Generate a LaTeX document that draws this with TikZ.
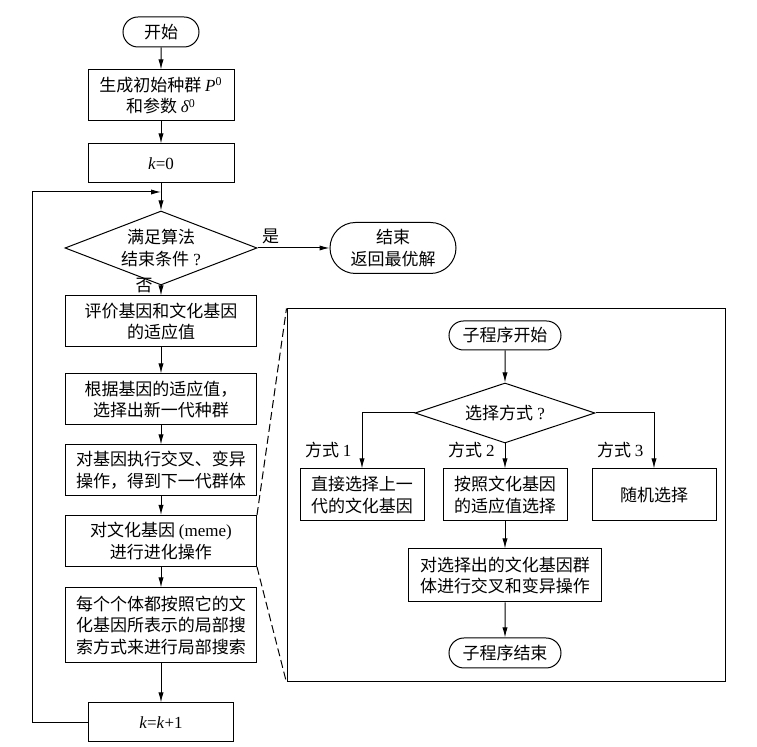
\documentclass[tikz,border=0pt]{standalone}
\usepackage{fontspec}
\setmainfont{Liberation Serif}
\newfontfamily\cjk{Noto Sans CJK SC}
\usetikzlibrary{arrows.meta, shapes.geometric, shapes.misc}

\newcommand{\lat}[1]{{\rmfamily #1}}

\begin{document}
\begin{tikzpicture}[x=0.5pt, y=-0.5pt, line width=0.5pt,
    every node/.style={font=\cjk\fontsize{8.5}{10.8}\selectfont},
    box/.style={draw, rectangle, align=center, inner sep=1pt, minimum width=95.5pt, minimum height=25.5pt},
    term/.style={draw, rounded rectangle, align=center, inner sep=0.5pt},
    cond/.style={draw, diamond, align=center, inner sep=0pt},
    arr/.style={-{Latex[length=5pt, width=2.6pt]}}]

  \useasboundingbox (0,0) rectangle (757,747);

  % main loop
  \node[term, minimum width=39pt, minimum height=15pt] (start) at (161,32) {开始};
  \node[box, minimum width=73pt] (init) at (161,95.5) {生成初始种群 \lat{\textit{P}\textsuperscript{0}}\\和参数 \lat{\textit{δ}\textsuperscript{0}}};
  \node[box, minimum width=73pt, minimum height=19.5pt] (kzero) at (161,163.5) {\lat{\textit{k}=0}};
  \node[cond, aspect=2.6, minimum width=96pt, minimum height=37pt] (stop) at (161,248) {满足算法\\结束条件\lat{ ?}};
  \node[term, minimum width=64pt, minimum height=25.5pt] (done) at (393,248) {结束\\返回最优解};
  \node[box] (fit) at (161,321.5) {评价基因和文化基因\\的适应值};
  \node[box] (pick) at (161,399.5) {根据基因的适应值，\\选择出新一代种群};
  \node[box] (ga) at (161,470.5) {对基因执行交叉、变异\\操作，得到下一代群体};
  \node[box] (meme) at (161,541) {对文化基因 \lat{(meme)}\\进行进化操作};
  \node[box, minimum height=37.5pt] (ls) at (161,625.5) {每个个体都按照它的文\\化基因所表示的局部搜\\索方式来进行局部搜索};
  \node[box, minimum width=72.5pt, minimum height=19.5pt] (knext) at (161,722.5) {\lat{\textit{k}=\textit{k}+1}};
  \coordinate (back) at (161,192);

  \draw[arr] (start) -- (init);
  \draw[arr] (init) -- (kzero);
  \draw[arr] (kzero) -- (stop);
  \draw[arr] (stop) -- node[pos=0, above right, inner sep=2pt] (yes) {是} (done);
  \draw[arr] (stop) -- node[pos=0, left, inner sep=4pt] (no) {否} (fit);
  \draw[arr] (fit) -- (pick);
  \draw[arr] (pick) -- (ga);
  \draw[arr] (ga) -- (meme);
  \draw[arr] (meme) -- (ls);
  \draw[arr] (ls) -- (knext);
  \draw[arr] (knext.west) -- ++(-55.5,0) |- (back);

  % sub-program
  \node[draw, minimum width=219pt, minimum height=186.5pt, inner sep=0pt] (sub) at (506,495.5) {};
  \draw[dash pattern=on 4pt off 2pt] (meme.north east) -- (sub.north west);
  \draw[dash pattern=on 4pt off 2pt] (meme.south east) -- (sub.south west);

  \node[term, minimum width=57pt, minimum height=14.5pt] (sbeg) at (505,335.5) {子程序开始};
  \node[cond, aspect=3, minimum width=90pt, minimum height=30pt] (way) at (505,413) {选择方式\lat{ ?}};
  \node[box, minimum width=62pt, minimum height=26pt] (m1) at (362,495) {直接选择上一\\代的文化基因};
  \node[box, minimum width=62pt, minimum height=26pt] (m2) at (505,495) {按照文化基因\\的适应值选择};
  \node[box, minimum width=62pt, minimum height=26pt] (m3) at (654,495) {随机选择};
  \node[box, minimum width=96.5pt, minimum height=26.5pt] (mcross) at (505,575.5) {对选择出的文化基因群\\体进行交叉和变异操作};
  \node[term, minimum width=57pt, minimum height=15pt] (send) at (505,653) {子程序结束};

  \draw[arr] (sbeg) -- (way);
  \draw[arr] (way.west) -| (m1.north);
  \draw[arr] (way) -- (m2);
  \draw[arr] (way.east) -| (m3.north);
  \draw[arr] (m2) -- (mcross);
  \draw[arr] (mcross) -- (send);

  \foreach \t in {1,2,3}
    \node[anchor=south east, inner sep=1pt, xshift=-4pt, yshift=4pt] (tag\t) at (m\t.north) {方式 \lat{\t}};

\end{tikzpicture}
\end{document}
